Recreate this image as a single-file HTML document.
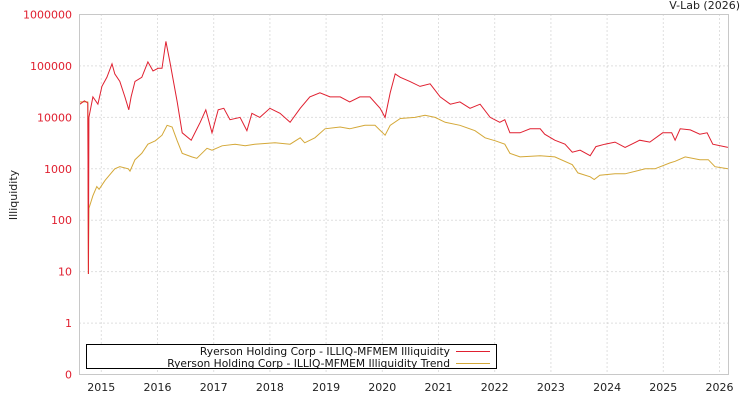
<!DOCTYPE html>
<html><head><meta charset="utf-8"><style>
body{margin:0;background:#fff;}
svg{display:block;font-family:"DejaVu Sans","Liberation Sans",sans-serif;}
</style></head><body>
<svg id="chart" width="750" height="400" viewBox="0 0 750 400">
<rect x="0" y="0" width="750" height="400" fill="#fff"/>
<text x="740" y="9" font-size="11" text-anchor="end" fill="#222">V-Lab (2026)</text>
<text transform="translate(17,195) rotate(-90)" font-size="11" text-anchor="middle" fill="#222">Illiquidity</text>
<g id="grid"></g>
<g id="series"></g>
<rect x="79.5" y="14.5" width="649" height="360" fill="none" stroke="#c8c8c8"/>
<g id="ticks"></g>
<g>
<rect x="86.5" y="344.5" width="410" height="24" fill="#fff" stroke="#000"/>
<text x="450" y="355" font-size="10.7" text-anchor="end" fill="#111">Ryerson Holding Corp - ILLIQ-MFMEM Illiquidity</text>
<line x1="456" y1="351.5" x2="490" y2="351.5" stroke="#e02030"/>
<text x="450" y="367" font-size="10.7" text-anchor="end" fill="#111">Ryerson Holding Corp - ILLIQ-MFMEM Illiquidity Trend</text>
<line x1="456" y1="363.5" x2="490" y2="363.5" stroke="#d4a838"/>
</g>
</svg>
<script>
const yTickValues=[0.1,1,10,100,1000,10000,100000,1000000];
const yTickLabels=["0","1","10","100","1000","10000","100000","1000000"];
const xTickYears=[2015,2016,2017,2018,2019,2020,2021,2022,2023,2024,2025,2026];
const illiqDates=[2014.62,2014.70,2014.76,2014.77,2014.78,2014.85,2014.94,2015.01,2015.10,2015.19,2015.24,2015.33,2015.42,2015.49,2015.53,2015.60,2015.72,2015.83,2015.92,2016.01,2016.08,2016.15,2016.22,2016.35,2016.44,2016.60,2016.76,2016.86,2016.97,2017.08,2017.18,2017.29,2017.47,2017.59,2017.68,2017.82,2018.0,2018.18,2018.36,2018.54,2018.71,2018.89,2019.07,2019.25,2019.42,2019.60,2019.78,2019.96,2020.05,2020.14,2020.23,2020.32,2020.49,2020.67,2020.85,2021.03,2021.21,2021.38,2021.56,2021.74,2021.92,2022.09,2022.18,2022.27,2022.45,2022.63,2022.81,2022.89,2023.07,2023.25,2023.38,2023.52,2023.70,2023.80,2023.96,2024.14,2024.32,2024.58,2024.76,2024.99,2025.15,2025.21,2025.30,2025.48,2025.65,2025.78,2025.88,2026.15];
const illiqValues=[18000,21000,19000,9,10000,25000,18000,40000,60000,110000,70000,50000,25000,14000,25000,50000,60000,120000,80000,90000,90000,300000,120000,20000,5000,3600,8000,14000,5000,14000,15000,9000,10000,5500,12000,10000,15000,12000,8000,15000,25000,30000,25000,25000,20000,25000,25000,15000,10000,30000,70000,60000,50000,40000,45000,25000,18000,20000,15000,18000,10000,8000,9000,5000,5000,6000,6000,4700,3600,3000,2100,2300,1800,2700,3000,3300,2600,3600,3300,5000,5000,3600,6000,5700,4700,5000,3000,2600];
const trendDates=[2014.62,2014.76,2014.77,2014.78,2014.85,2014.92,2014.96,2015.07,2015.24,2015.33,2015.48,2015.51,2015.60,2015.72,2015.83,2015.96,2016.08,2016.17,2016.26,2016.35,2016.44,2016.61,2016.70,2016.79,2016.88,2016.97,2017.15,2017.38,2017.56,2017.73,2018.09,2018.36,2018.54,2018.62,2018.80,2018.98,2019.25,2019.42,2019.69,2019.87,2020.05,2020.14,2020.32,2020.58,2020.76,2020.94,2021.12,2021.38,2021.65,2021.83,2022.01,2022.18,2022.27,2022.45,2022.81,2023.07,2023.38,2023.48,2023.70,2023.77,2023.87,2024.14,2024.32,2024.68,2024.85,2025.12,2025.21,2025.39,2025.65,2025.80,2025.92,2026.15];
const trendValues=[20000,20000,9,170,300,450,400,600,1000,1100,1000,900,1500,2000,3000,3500,4500,7000,6500,3500,2000,1700,1600,2000,2500,2300,2800,3000,2800,3000,3200,3000,4000,3200,4000,6000,6500,6000,7000,7000,4500,7000,9500,10000,11000,10000,8000,7000,5500,4000,3500,3000,2000,1700,1800,1700,1200,830,700,620,750,800,800,1000,1000,1300,1400,1700,1500,1500,1100,1000];

const NS="http://www.w3.org/2000/svg";
const L=79.5,R=728.5,T=14.5,B=374.5;
function xScale(yr){return 101.3+(yr-2015)*56.2;}
function yScale(v){return B-(Math.log10(v)+1)*(B-T)/7;}
function mk(tag,attrs,parent){const e=document.createElementNS(NS,tag);for(const k in attrs)e.setAttribute(k,attrs[k]);parent.appendChild(e);return e;}
const grid=document.getElementById('grid'),ticks=document.getElementById('ticks'),series=document.getElementById('series');
yTickValues.forEach((v,i)=>{
  const y=yScale(v);
  if(i>0&&i<yTickValues.length-1){
    const g=mk('line',{x1:L,x2:R,y1:y,y2:y,stroke:'#c0c0c0','stroke-dasharray':'1,3'},grid);
    
    
  }
  const t=mk('text',{x:72,y:y+4,'font-size':11,'text-anchor':'end',fill:'#e02030'},ticks);
  t.textContent=yTickLabels[i];
  
  
});
xTickYears.forEach(yr=>{
  const x=xScale(yr);
  const g=mk('line',{x1:x,x2:x,y1:T,y2:B,stroke:'#c0c0c0','stroke-dasharray':'1,3'},grid);
  
  
  const t=mk('text',{x:x,y:391,'font-size':11,'text-anchor':'middle',fill:'#222'},ticks);
  t.textContent=String(yr);
  
  
});
function line(dates,vals){
  return dates.map((d,i)=>xScale(d).toFixed(1)+','+yScale(vals[i]).toFixed(1)).join(' ');
}
const tl=mk('polyline',{points:line(trendDates,trendValues),fill:'none',stroke:'#d4a838','stroke-width':1},series);


const il=mk('polyline',{points:line(illiqDates,illiqValues),fill:'none',stroke:'#e02030','stroke-width':1},series);


</script>
</body></html>
